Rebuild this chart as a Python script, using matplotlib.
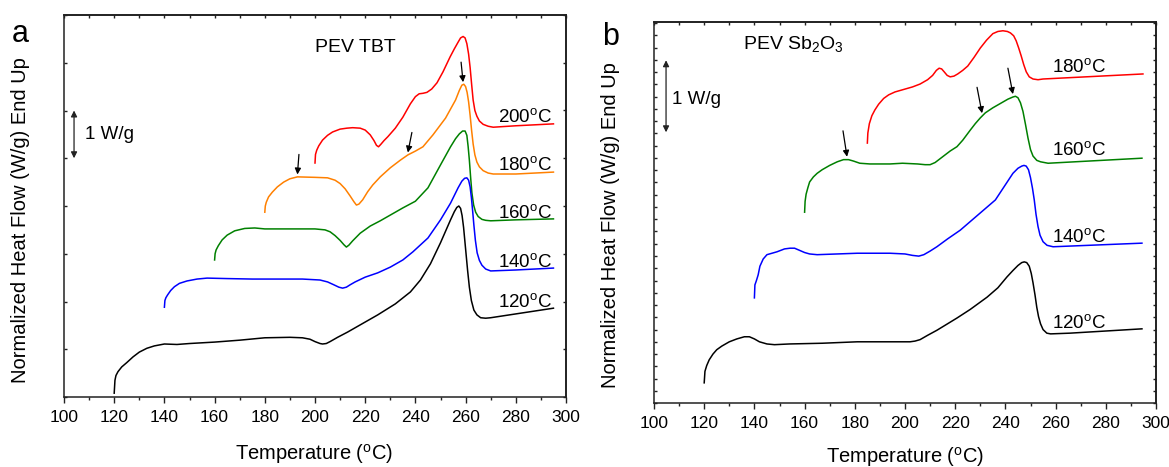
import numpy as np
import matplotlib
matplotlib.use("Agg")
import matplotlib.pyplot as plt
from matplotlib.ticker import MultipleLocator, FixedLocator, NullFormatter
import matplotlib.transforms as mtrans

plt.rcParams['font.family'] = ['Liberation Sans', 'DejaVu Sans']
plt.rcParams['mathtext.fontset'] = 'custom'
plt.rcParams['mathtext.rm'] = 'Liberation Sans'
plt.rcParams['mathtext.it'] = 'Liberation Sans:italic'
plt.rcParams['mathtext.bf'] = 'Liberation Sans:bold'

# ---------------- Panel a: PEV TBT ----------------
a_120_T = [120, 120.3, 120.7, 121.5, 123, 125, 127.5, 130, 133, 136, 140, 145, 150, 160, 170, 180, 190, 195, 198, 200, 202, 203, 204.5, 206, 209, 213, 220, 225, 232, 238, 242, 246, 250, 252, 254, 255.5, 256.5, 257.3, 258, 258.6, 259.2, 260, 260.8, 261.5, 262.3, 263.3, 264.5, 266, 268, 270, 280, 290, 295]
a_120_W = [0.08, 0.35, 0.45, 0.53, 0.63, 0.72, 0.84, 0.94, 1.02, 1.07, 1.11, 1.10, 1.12, 1.15, 1.19, 1.24, 1.25, 1.24, 1.21, 1.16, 1.12, 1.11, 1.12, 1.16, 1.25, 1.36, 1.57, 1.72, 1.95, 2.20, 2.45, 2.79, 3.23, 3.47, 3.71, 3.88, 3.97, 4.00, 3.95, 3.80, 3.55, 3.10, 2.65, 2.30, 2.02, 1.82, 1.72, 1.66, 1.65, 1.66, 1.74, 1.82, 1.86]

a_140_T = [140, 140.2, 140.6, 141.3, 142.5, 144, 146, 149, 153, 157, 165, 175, 185, 195, 202, 205, 207.5, 209.5, 211, 212.5, 214, 216, 220, 225, 230, 235, 239, 245, 250, 254, 257, 258.5, 259.6, 260.5, 261.2, 261.8, 262.3, 262.8, 263.3, 263.9, 264.6, 265.5, 266.5, 268, 270, 280, 295]
a_140_W = [1.88, 2.02, 2.08, 2.14, 2.23, 2.31, 2.38, 2.43, 2.47, 2.49, 2.48, 2.47, 2.47, 2.47, 2.45, 2.41, 2.35, 2.30, 2.28, 2.30, 2.35, 2.41, 2.51, 2.60, 2.72, 2.87, 3.04, 3.33, 3.71, 4.06, 4.38, 4.52, 4.58, 4.59, 4.54, 4.40, 4.18, 3.90, 3.60, 3.28, 3.02, 2.86, 2.76, 2.68, 2.64, 2.66, 2.70]

a_160_T = [160, 160.2, 160.6, 161.5, 163, 165, 168, 172, 176, 180, 190, 200, 204, 206, 208, 210, 211.5, 212.5, 213.5, 215, 218, 222, 226, 230, 235, 240, 245, 250, 254, 256, 257.5, 258.8, 259.8, 260.5, 261, 261.5, 262, 262.5, 263.2, 264, 265, 266.5, 268, 270, 280, 295]
a_160_W = [2.87, 3.00, 3.08, 3.17, 3.29, 3.39, 3.48, 3.53, 3.54, 3.52, 3.52, 3.52, 3.50, 3.46, 3.38, 3.28, 3.19, 3.14, 3.18, 3.27, 3.43, 3.58, 3.69, 3.81, 3.96, 4.10, 4.38, 4.86, 5.24, 5.41, 5.51, 5.57, 5.57, 5.48, 5.25, 4.96, 4.60, 4.28, 4.02, 3.87, 3.78, 3.72, 3.70, 3.69, 3.71, 3.73]

a_180_T = [180, 180.2, 180.6, 181.5, 183, 185, 187.5, 190, 193, 200, 205, 208, 210, 212, 214, 215.5, 216.5, 217.5, 219, 221, 223, 226, 230, 234, 237, 240, 243, 247, 252, 256, 257.5, 258.5, 259.3, 260, 260.6, 261.2, 261.8, 262.4, 263, 263.7, 264.5, 265.5, 267, 269, 271, 280, 295]
a_180_W = [3.87, 4.00, 4.08, 4.19, 4.29, 4.40, 4.50, 4.57, 4.61, 4.60, 4.59, 4.54, 4.47, 4.36, 4.21, 4.09, 4.02, 4.04, 4.13, 4.30, 4.44, 4.61, 4.80, 4.96, 5.07, 5.15, 5.24, 5.49, 5.84, 6.22, 6.42, 6.53, 6.55, 6.50, 6.38, 6.18, 5.90, 5.58, 5.30, 5.07, 4.92, 4.82, 4.74, 4.69, 4.67, 4.67, 4.71]

a_200_T = [200, 200.2, 200.7, 201.5, 203, 205, 207, 210, 212.7, 215, 218, 220, 222, 223.5, 224.5, 225.3, 226.2, 227.5, 229, 232, 235, 238, 240, 241.5, 243, 244.6, 246.5, 248.6, 251, 253.8, 255.5, 257, 258, 259, 259.8, 260.5, 261.2, 261.8, 262.4, 263, 263.7, 264.5, 265.5, 267, 269, 271, 280, 295]
a_200_W = [4.90, 5.08, 5.17, 5.26, 5.38, 5.48, 5.55, 5.61, 5.63, 5.64, 5.63, 5.59, 5.49, 5.37, 5.27, 5.24, 5.29, 5.37, 5.45, 5.63, 5.86, 6.14, 6.29, 6.35, 6.36, 6.38, 6.45, 6.58, 6.81, 7.12, 7.29, 7.43, 7.52, 7.55, 7.52, 7.40, 7.18, 6.90, 6.55, 6.22, 6.00, 5.88, 5.78, 5.71, 5.67, 5.65, 5.68, 5.72]

a_labels = ['200', '180', '160', '140', '120']
a_label_y = [5.76, 4.75, 3.75, 2.72, 1.88]
a_arrow_T = [193, 237, 259]          # arrows on the 180 °C curve
a_arrow_dx = [0.6, 1.6, -0.8]

# ---------------- Panel b: PEV Sb2O3 ----------------
b_120_T = [120, 120.3, 121, 122, 123.5, 125, 127, 130, 133, 136, 138, 140, 142, 145, 148, 154, 167, 181, 194, 202, 204, 206, 209, 212.7, 216, 220.7, 226, 232.7, 237, 240.6, 243, 245, 246.5, 247.5, 248.5, 249.5, 250.3, 251, 251.8, 252.5, 253.2, 254, 255, 256.5, 258, 265.7, 294.4]
b_120_W = [0.28, 0.44, 0.52, 0.60, 0.68, 0.74, 0.79, 0.85, 0.89, 0.92, 0.92, 0.89, 0.85, 0.82, 0.81, 0.82, 0.83, 0.85, 0.85, 0.85, 0.86, 0.88, 0.94, 1.01, 1.08, 1.18, 1.30, 1.47, 1.60, 1.75, 1.84, 1.91, 1.95, 1.96, 1.95, 1.90, 1.80, 1.67, 1.50, 1.33, 1.20, 1.10, 1.02, 0.97, 0.96, 0.97, 1.03]

b_140_T = [140, 140.2, 140.8, 141.5, 142.2, 143.5, 145, 147, 149, 152, 154.2, 156, 158, 160, 162, 165, 181, 194, 200, 203, 205.5, 207.5, 210, 212.7, 217, 222, 230, 236, 243, 245, 246.5, 247.4, 248.3, 249.2, 250, 250.8, 251.5, 252.2, 253, 253.8, 255, 256.6, 259, 294.4]
b_140_W = [1.46, 1.64, 1.70, 1.78, 1.90, 2.00, 2.06, 2.08, 2.10, 2.14, 2.15, 2.15, 2.12, 2.09, 2.07, 2.06, 2.08, 2.08, 2.07, 2.05, 2.04, 2.06, 2.11, 2.17, 2.28, 2.40, 2.64, 2.82, 3.19, 3.26, 3.29, 3.30, 3.29, 3.24, 3.13, 2.98, 2.82, 2.62, 2.45, 2.33, 2.24, 2.19, 2.17, 2.22]

b_160_T = [160, 160.2, 160.6, 161.3, 162, 163.5, 165, 167, 170, 173, 175.5, 177.5, 179.5, 182, 186, 194, 199, 205, 208, 210, 212, 215, 218, 220.7, 223, 226, 228, 230, 232, 235, 238, 241, 243, 244, 245, 246, 247, 248, 249, 250, 251, 252.5, 254, 257, 294.4]
b_160_W = [2.65, 2.80, 2.90, 2.99, 3.07, 3.14, 3.19, 3.24, 3.30, 3.35, 3.38, 3.38, 3.36, 3.33, 3.32, 3.32, 3.33, 3.32, 3.31, 3.31, 3.34, 3.42, 3.50, 3.56, 3.65, 3.79, 3.88, 3.96, 4.03, 4.10, 4.16, 4.22, 4.25, 4.26, 4.24, 4.17, 4.05, 3.87, 3.68, 3.52, 3.43, 3.37, 3.35, 3.33, 3.40]

b_180_T = [185, 185.2, 185.8, 186.8, 188, 189.5, 191.5, 193.5, 196, 200, 203, 206, 209, 211, 212.5, 213.6, 214.6, 215.6, 216.8, 218, 219.5, 221, 223, 225, 227.5, 230, 232.5, 235, 237, 239, 240.8, 242, 243.3, 244.3, 245.3, 246.3, 247.3, 248.3, 249.5, 251, 253, 255, 294.8]
b_180_W = [3.61, 3.75, 3.88, 3.99, 4.07, 4.15, 4.23, 4.28, 4.32, 4.36, 4.39, 4.43, 4.49, 4.55, 4.62, 4.65, 4.64, 4.60, 4.55, 4.53, 4.54, 4.57, 4.62, 4.68, 4.80, 4.93, 5.04, 5.13, 5.16, 5.17, 5.16, 5.14, 5.10, 5.03, 4.93, 4.82, 4.70, 4.60, 4.53, 4.50, 4.49, 4.50, 4.57]

b_labels = ['180', '160', '140', '120']
b_label_y = [4.60, 3.44, 2.24, 1.04]
b_arrow_T = [176.9, 230.7, 243]      # arrows on the 160 °C curve
b_arrow_dx = [-1.6, -2.0, -2.0]

xticks = list(range(100, 301, 20))

# ---------------- figure ----------------
W, H = 1169, 467
fig = plt.figure(figsize=(W / 100, H / 100), dpi=100)

def px_axes(l, t, r, b):
    return fig.add_axes([l / W, (H - b) / H, (r - l) / W, (b - t) / H])

axA = px_axes(64, 15, 566, 397)
axB = px_axes(654, 22, 1156, 403)

spine_lw = 1.1
tick_fs = 12.5
lab_fs = 14.5
curve_fs = 13.5

def style(ax, ylim, ystep):
    ax.set_xlim(100, 300)
    ax.set_ylim(*ylim)
    for s in ax.spines.values():
        s.set_linewidth(spine_lw)
        s.set_color('#222222')
    ax.xaxis.set_major_locator(FixedLocator(xticks))
    ax.xaxis.set_minor_locator(MultipleLocator(10))
    ax.tick_params(axis='x', which='major', direction='out', length=4.5, width=1.0,
                   labelsize=tick_fs, pad=5, top=False, color='#222222')
    ax.tick_params(axis='x', which='minor', direction='out', length=2.5, width=1.0,
                   top=False, color='#222222')
    yt = np.arange(ylim[0], ylim[1] + 1e-6, ystep)
    ax.yaxis.set_major_locator(FixedLocator(yt))
    ax.yaxis.set_major_formatter(NullFormatter())
    ax.tick_params(axis='y', which='both', direction='in', length=2.5, width=1.0,
                   left=True, right=False, color='#222222')
    sec = ax.secondary_xaxis('top')
    sec.xaxis.set_major_locator(MultipleLocator(10))
    sec.tick_params(direction='in', length=2.5, width=1.0, labeltop=False, color='#222222')
    sec.spines['top'].set_linewidth(spine_lw)
    sy = ax.secondary_yaxis('right')
    sy.yaxis.set_major_locator(FixedLocator(yt))
    sy.tick_params(direction='in', length=2.5, width=1.0, labelright=False, color='#222222')
    sy.spines['right'].set_linewidth(spine_lw)

style(axA, (0, 8), 1.0)
style(axB, (0, 381 / 72), 12.25 / 72)

lw = 1.1
colors = ['#ff0000', '#ff8000', '#008000', '#0000ff', '#000000']
a_series = [(a_200_T, a_200_W), (a_180_T, a_180_W), (a_160_T, a_160_W), (a_140_T, a_140_W), (a_120_T, a_120_W)]
for (T, Wv), c in zip(a_series, colors):
    axA.plot(T, Wv, color=c, lw=lw, solid_joinstyle='round')

b_colors = ['#ff0000', '#008000', '#0000ff', '#000000']
b_series = [(b_180_T, b_180_W), (b_160_T, b_160_W), (b_140_T, b_140_W), (b_120_T, b_120_W)]
for (T, Wv), c in zip(b_series, b_colors):
    axB.plot(T, Wv, color=c, lw=lw, solid_joinstyle='round')

deg = r'$^{\mathrm{o}}$C'
for lab, y in zip(a_labels, a_label_y):
    axA.text(294.5, y, lab + deg, ha='right', va='baseline', fontsize=curve_fs)
for lab, y in zip(b_labels, b_label_y):
    axB.text(280, y, lab + deg, ha='right', va='baseline', fontsize=curve_fs)

# arrows marking features
for T, dx in zip(a_arrow_T, a_arrow_dx):
    yc = np.interp(T, a_180_T, a_180_W)
    axA.annotate('', xy=(T, yc + 0.05), xytext=(T + dx, yc + 0.47),
                 arrowprops=dict(arrowstyle='-|>', color='k', lw=0.9,
                                 mutation_scale=9, shrinkA=0, shrinkB=0))
for T, dx in zip(b_arrow_T, b_arrow_dx):
    yc = np.interp(T, b_160_T, b_160_W)
    axB.annotate('', xy=(T, yc + 0.04), xytext=(T + dx, yc + 0.40),
                 arrowprops=dict(arrowstyle='-|>', color='k', lw=0.9,
                                 mutation_scale=9, shrinkA=0, shrinkB=0))

# 1 W/g scale bars
trA = mtrans.blended_transform_factory(axA.transAxes, axA.transData)
axA.annotate('', xy=(0.02, 6.0), xytext=(0.02, 5.0), xycoords=trA, textcoords=trA,
             arrowprops=dict(arrowstyle='<|-|>', color='#222222', lw=0.9,
                             mutation_scale=9, shrinkA=0, shrinkB=0))
axA.text(0.042, 5.4, '1 W/g', transform=trA, ha='left', va='baseline', fontsize=13.5)

trB = mtrans.blended_transform_factory(axB.transAxes, axB.transData)
axB.annotate('', xy=(0.024, 4.76), xytext=(0.024, 3.76), xycoords=trB, textcoords=trB,
             arrowprops=dict(arrowstyle='<|-|>', color='#222222', lw=0.9,
                             mutation_scale=9, shrinkA=0, shrinkB=0))
axB.text(0.036, 4.15, '1 W/g', transform=trB, ha='left', va='baseline', fontsize=13.5)

axA.text(0.58, 0.903, 'PEV TBT', transform=axA.transAxes, ha='center', va='baseline', fontsize=14)
axB.text(0.277, 0.929, r'PEV Sb$_2$O$_3$', transform=axB.transAxes, ha='center', va='baseline', fontsize=14)

# axis labels
ylab = 'Normalized Heat Flow (W/g) End Up'
fig.text(21 / W, (H - 220) / H, ylab, rotation=90, ha='center', va='center', fontsize=lab_fs)
fig.text(611 / W, (H - 225) / H, ylab, rotation=90, ha='center', va='center', fontsize=lab_fs)
xlab = r'Temperature ($^{\mathrm{o}}$C)'
fig.text(314 / W, (H - 460) / H, xlab, ha='center', va='baseline', fontsize=lab_fs)
fig.text(905 / W, (H - 463) / H, xlab, ha='center', va='baseline', fontsize=lab_fs)

# panel letters
fig.text(12 / W, (H - 42) / H, 'a', ha='left', va='baseline', fontsize=22)
fig.text(602 / W, (H - 45) / H, 'b', ha='left', va='baseline', fontsize=22)

fig.savefig('out.png', dpi=100)
